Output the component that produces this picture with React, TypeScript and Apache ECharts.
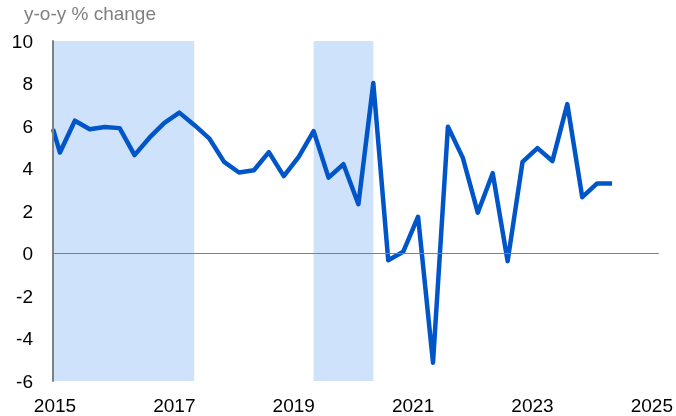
import React, { useEffect, useRef } from "react";
import * as echarts from "echarts";

// Quarterly observations (mid-quarter months), x in decimal years.
// The first value is the level where the line meets the left axis.
const xRange = { min: 2014.967, max: 2025.117 };
const firstObs = 2015 + 1 / 12; // Feb 2015
const values = [
  5.85, 4.75, 6.25, 5.85, 5.95, 5.9, 4.63, 5.45, 6.15, 6.63,
  6.05, 5.42, 4.31, 3.81, 3.92, 4.77, 3.64, 4.55, 5.76, 3.57,
  4.2, 2.32, 8.02, -0.32, 0.08, 1.73, -5.14, 5.97, 4.5, 1.92,
  3.78, -0.36, 4.31, 4.96, 4.35, 7.03, 2.65, 3.3, 3.3,
];
const xTickLabels = [2015, 2017, 2019, 2021, 2023, 2025];
const shadedPeriods: [number, number][] = [
  [2014.967, 2017.333],
  [2019.333, 2020.333],
];
const yTicks = { min: -6, max: 10, step: 2 };
const yTitle = "y-o-y % change";

const FONT = "'Liberation Sans', Arial, sans-serif";

export default function App() {
  const ref = useRef<HTMLDivElement>(null);
  useEffect(() => {
    if (!ref.current) return;
    const chart = echarts.init(ref.current, undefined, { renderer: "svg" });
    const data = values.map((v, i) => [
      i === 0 ? xRange.min : firstObs + (i - 1) * 0.25,
      v,
    ]);
    chart.setOption({
      animation: false,
      title: {
        text: yTitle,
        left: 24,
        top: 4,
        padding: 0,
        textStyle: {
          fontFamily: FONT,
          fontSize: 19,
          fontWeight: "normal",
          color: "#808080",
        },
      },
      grid: { left: 53, right: 14, top: 41, bottom: 35 },
      xAxis: {
        type: "value",
        min: xRange.min,
        max: xRange.max,
        axisLine: { show: false },
        axisTick: { show: false },
        splitLine: { show: false },
        axisLabel: {
          customValues: xTickLabels,
          formatter: (v: number) => String(Math.round(v)),
          fontFamily: FONT,
          fontSize: 19,
          color: "#000",
          margin: 15,
        },
      },
      yAxis: {
        type: "value",
        min: yTicks.min,
        max: yTicks.max,
        interval: yTicks.step,
        z: 10,
        axisLine: { show: true, lineStyle: { color: "#808080", width: 2 } },
        axisTick: { show: false },
        splitLine: { show: false },
        axisLabel: {
          fontFamily: FONT,
          fontSize: 19,
          color: "#000",
          margin: 20,
        },
      },
      series: [
        {
          type: "line",
          data: [],
          silent: true,
          z: 1,
          markArea: {
            silent: true,
            itemStyle: { color: "#cfe2fb" },
            data: shadedPeriods.map(([a, b]) => [{ xAxis: a }, { xAxis: b }]),
          },
          markLine: {
            silent: true,
            symbol: "none",
            label: { show: false },
            lineStyle: { color: "#808080", width: 1, type: "solid" },
            data: [{ yAxis: 0 }],
          },
        },
        {
          type: "line",
          data,
          z: 3,
          showSymbol: false,
          symbol: "none",
          lineStyle: { color: "#0055c8", width: 4.5, cap: "butt", join: "round" },
        },
      ],
    });
    return () => chart.dispose();
  }, []);
  return (
    <div
      ref={ref}
      style={{ position: "fixed", left: 0, top: 0, width: 676, height: 416 }}
    />
  );
}
